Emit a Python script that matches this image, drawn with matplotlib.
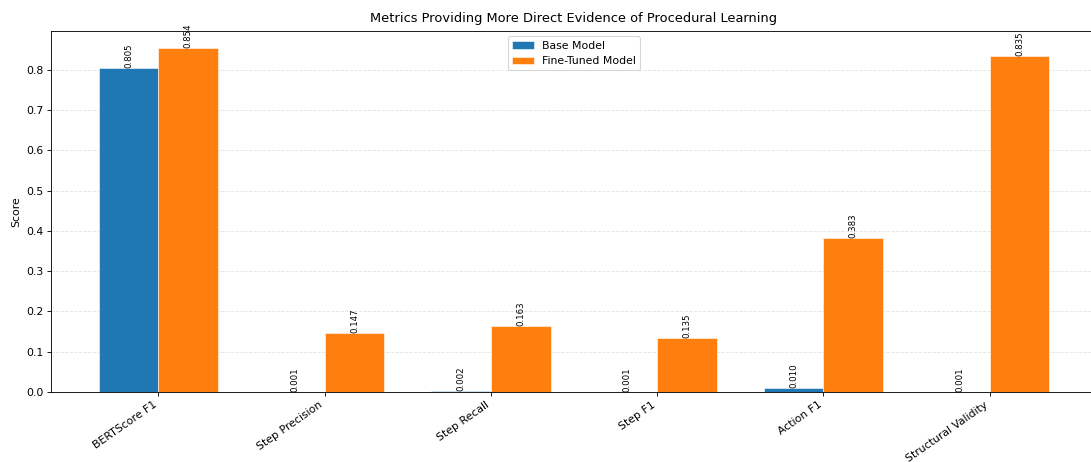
import numpy as np
import matplotlib
matplotlib.use("Agg")
import matplotlib.pyplot as plt

metrics = ["BERTScore F1", "Step Precision", "Step Recall", "Step F1", "Action F1", "Structural Validity"]
base_scores = [0.805, 0.001, 0.002, 0.001, 0.010, 0.001]
tuned_scores = [0.854, 0.147, 0.163, 0.135, 0.383, 0.835]

x = np.arange(len(metrics))
width = 0.36

dpi = 1091 / 14
fig, ax = plt.subplots(figsize=(14, 462 / dpi), dpi=dpi)
b1 = ax.bar(x - width / 2, base_scores, width, label="Base Model",
            color="#1f77b4", edgecolor="white", linewidth=0.5)
b2 = ax.bar(x + width / 2, tuned_scores, width, label="Fine-Tuned Model",
            color="#ff7f0e", edgecolor="white", linewidth=0.5)

for bars in (b1, b2):
    for rect in bars:
        h = rect.get_height()
        ax.text(rect.get_x() + rect.get_width() / 2, h, f"{h:.3f}",
                ha="center", va="bottom", rotation=90, fontsize=8)

ax.set_ylabel("Score")
ax.set_title("Metrics Providing More Direct Evidence of Procedural Learning", pad=8)
ax.set_xticks(x)
ax.set_xticklabels(metrics, rotation=35, ha="right")
ax.grid(axis="y", linestyle="--", alpha=0.35)
ax.set_axisbelow(True)
ax.legend(loc="upper center")

# axes run slightly past the right edge of the canvas
ax.set_position([51 / 1091, 1 - 392 / 462, 1046 / 1091, 361 / 462])
plt.savefig("out.png", dpi=dpi)
